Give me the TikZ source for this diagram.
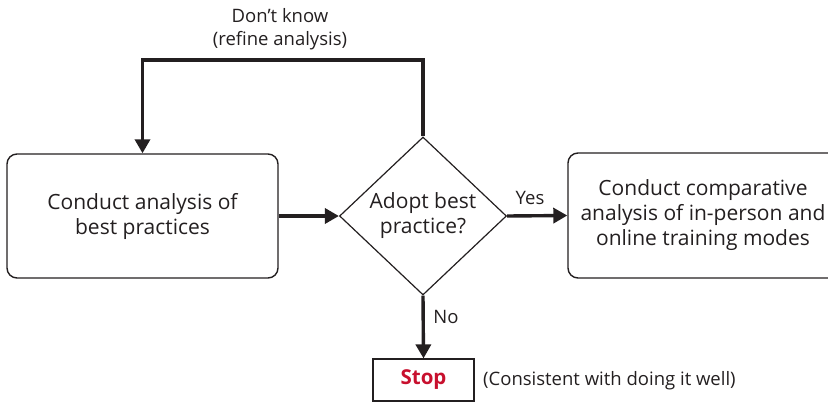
\documentclass[tikz,border=0pt]{standalone}
\usepackage{fontspec}
\setmainfont{Open Sans}
\usetikzlibrary{shapes.geometric,arrows.meta}
\definecolor{ink}{RGB}{35,31,32}
\definecolor{stopred}{RGB}{200,16,46}
\tikzset{
  flowbox/.style={draw=ink, line width=1.4pt, rounded corners=10pt, align=center,
    text=ink, font=\fontsize{21}{25}\selectfont, inner sep=0pt},
  decision/.style={draw=ink, line width=1.2pt, shape=diamond, aspect=1.06, inner sep=0pt,
    minimum width=167pt, minimum height=158pt, align=center, text=ink,
    font=\fontsize{21}{25}\selectfont},
  stopbox/.style={draw=ink, line width=1.2pt, inner sep=0pt, minimum width=101pt,
    minimum height=42pt, text=stopred, font=\fontsize{20.5}{24}\selectfont\bfseries},
  flow/.style={draw=ink, line width=3.4pt, -{Triangle[length=14pt,width=15pt]}},
  tag/.style={text=ink, font=\fontsize{18.5}{23}\selectfont, inner sep=0pt},
}
\begin{document}
\begin{tikzpicture}[x=1pt,y=-1pt]
  \useasboundingbox (0,0) rectangle (828,402);
  \clip (0,0) rectangle (828,402);

  % process boxes and decision
  \node[flowbox, minimum width=271pt, minimum height=124pt] (analysis) at (142.5,216)
    {Conduct analysis of\\best practices};
  \node[decision] (adopt) at (423,216) {Adopt best\\practice?};
  \node[flowbox, minimum width=270pt, minimum height=125pt] (compare) at (703,215.5)
    {Conduct comparative\\analysis of in-person and\\online training modes};
  \node[stopbox] (stop) at (423.5,380) {Stop};

  % loop back for refinement
  \coordinate (loopR) at (423,60);
  \coordinate (loopL) at (142.5,60);
  \draw[flow] (adopt.north) -- (loopR) -- (loopL) -- (analysis.north);

  % main flow
  \draw[flow] (analysis.east) -- (adopt.west);
  \draw[flow] (adopt.east) -- (compare.west);
  \draw[flow] (adopt.south) -- (stop.north);

  % labels
  \node[tag, align=center] (dk) at (280,29) {Don’t know\\(refine analysis)};
  \node[tag] (yes) at (530,198) {Yes};
  \node[tag] (no) at (446,317) {No};
  \node[tag, anchor=west] (note) at (483,381) {(Consistent with doing it well)};
\end{tikzpicture}
\end{document}
